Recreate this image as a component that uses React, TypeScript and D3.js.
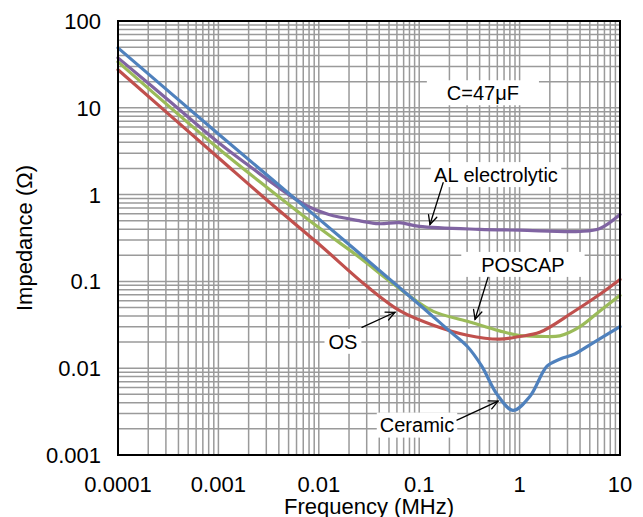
import React from 'react';
import * as d3 from 'd3';

const W = 643;
const H = 517;
const M = { left: 118, right: 23, top: 21, bottom: 62 };
const FONT = "'Liberation Sans', Arial, sans-serif";

const xTickValues = [0.0001, 0.001, 0.01, 0.1, 1, 10];
const xTickLabels = ['0.0001', '0.001', '0.01', '0.1', '1', '10'];
const yTickValues = [0.001, 0.01, 0.1, 1, 10, 100];
const yTickLabels = ['0.001', '0.01', '0.1', '1', '10', '100'];

// Ceramic (blue)
const ceramicFreq = [0.0001, 0.001, 0.01, 0.1, 0.1905, 0.302, 0.417, 0.603, 0.859, 1.27, 1.875, 2.51, 3.55, 5.01, 10];
const ceramicZ = [49, 5.0, 0.525, 0.0543, 0.0282, 0.0178, 0.0107, 0.0049, 0.00327, 0.00476, 0.01054, 0.0127, 0.0146, 0.0186, 0.0302];

// OS (red)
const osFreq = [0.0001, 0.001, 0.00316, 0.01, 0.0302, 0.0646, 0.138, 0.302, 0.631, 1.0, 1.585, 3.39, 6.31, 10];
const osZ = [27.4, 2.66, 0.832, 0.27, 0.0877, 0.0457, 0.0313, 0.024, 0.0216, 0.0232, 0.0259, 0.0441, 0.071, 0.105];

// POSCAP (green)
const poscapFreq = [0.0001, 0.001, 0.00316, 0.01, 0.0251, 0.0501, 0.0794, 0.138, 0.302, 0.631, 1.0, 1.6, 2.51, 4.0, 6.31, 10];
const poscapZ = [33.8, 3.39, 1.17, 0.417, 0.191, 0.102, 0.0684, 0.0452, 0.0347, 0.0269, 0.0238, 0.0233, 0.0236, 0.0302, 0.0457, 0.0690];

// AL electrolytic (purple)
const alFreq = [0.0001, 0.000316, 0.001, 0.00251, 0.00501, 0.00794, 0.0126, 0.0251, 0.0398, 0.0631, 0.1, 0.398, 1, 3.98, 6.31, 10];
const alZ = [37.6, 12.3, 3.98, 1.78, 1.0, 0.724, 0.589, 0.501, 0.462, 0.475, 0.431, 0.398, 0.389, 0.376, 0.407, 0.589];

const seriesNames = ['AL electrolytic', 'POSCAP', 'OS', 'Ceramic'];
const seriesFreqs = [alFreq, poscapFreq, osFreq, ceramicFreq];
const seriesZs = [alZ, poscapZ, osZ, ceramicZ];
const seriesColors = ['#8064A2', '#9BBB59', '#C0504D', '#4F81BD'];

// annotations: text centre, arrow start, arrow tip (data coordinates)
const annLabels = ['C=47μF', 'AL electrolytic', 'POSCAP', 'OS', 'Ceramic'];
const annTextF = [0.431, 0.582, 1.08, 0.0174, 0.0951];
const annTextZ = [14.9, 1.70, 0.157, 0.0204, 0.00221];
const annStartF = [null, 0.173, 0.484, 0.0269, 0.238];
const annStartZ = [null, 1.37, 0.111, 0.0296, 0.00252];
const annTipF = [null, 0.128, 0.36, 0.0574, 0.61];
const annTipZ = [null, 0.452, 0.0366, 0.0441, 0.00418];
const annPad = [20, 3, 20, 4, 3];

function gridValues(lo: number, hi: number): number[] {
  const out: number[] = [];
  for (let e = Math.round(Math.log10(lo)); e < Math.round(Math.log10(hi)); e++) {
    for (let k = 1; k <= 9; k++) out.push(k * Math.pow(10, e));
  }
  out.push(hi);
  return out;
}

function textWidth(s: string, size: number): number {
  if (typeof document === 'undefined') return s.length * size * 0.55;
  const c = document.createElement('canvas').getContext('2d');
  if (!c) return s.length * size * 0.55;
  c.font = `${size}px 'Liberation Sans', Arial, sans-serif`;
  return c.measureText(s).width;
}

export default function App() {
  const x = d3.scaleLog().domain([0.0001, 10]).range([M.left, W - M.right]);
  const y = d3.scaleLog().domain([0.001, 100]).range([H - M.bottom, M.top]);
  const x0 = M.left, x1 = W - M.right, y0 = M.top, y1 = H - M.bottom;

  const xg = gridValues(0.0001, 10);
  const yg = gridValues(0.001, 100);

  const line = d3
    .line<[number, number]>()
    .x((d) => x(d[0]))
    .y((d) => y(d[1]))
    .curve(d3.curveCatmullRom.alpha(0.5));

  const annFont = 20;

  return (
    <svg width={W} height={H} style={{ position: 'absolute', left: 0, top: 0, display: 'block', background: '#fff' }}>
      <rect x={0} y={0} width={W} height={H} fill="#fff" />
      <g stroke="#9a9a9a" strokeWidth={1.5}>
        {xg.map((v, i) => (
          <line key={'gx' + i} x1={x(v)} x2={x(v)} y1={y0} y2={y1} />
        ))}
        {yg.map((v, i) => (
          <line key={'gy' + i} x1={x0} x2={x1} y1={y(v)} y2={y(v)} />
        ))}
      </g>

      {annLabels.map((lab, i) => {
        const cx = x(annTextF[i]);
        const cy = y(annTextZ[i]);
        const w = textWidth(lab, annFont);
        const pad = annPad[i];
        return (
          <g key={'ab' + i}>
            <rect x={cx - w / 2 - pad} y={cy - 12.5} width={w + 2 * pad} height={25} fill="#fff" />
            <text x={cx} y={cy} dy="0.36em" textAnchor="middle" fontFamily={FONT} fontSize={annFont} fill="#000">
              {lab}
            </text>
          </g>
        );
      })}

      {seriesNames.map((name, si) => {
        const pts: [number, number][] = seriesFreqs[si].map((f, j) => [f, seriesZs[si][j]]);
        return (
          <path
            key={name}
            d={line(pts) || ''}
            fill="none"
            stroke={seriesColors[si]}
            strokeWidth={3.2}
            strokeLinecap="round"
            strokeLinejoin="round"
          />
        );
      })}

      {annLabels.map((lab, i) => {
        const sf = annStartF[i], sz = annStartZ[i], tf = annTipF[i], tz = annTipZ[i];
        if (sf == null || sz == null || tf == null || tz == null) return null;
        const sx = x(sf), sy = y(sz), tx = x(tf), ty = y(tz);
        const ang = Math.atan2(ty - sy, tx - sx);
        const L = 10, a = 0.45;
        const h1x = tx - L * Math.cos(ang - a), h1y = ty - L * Math.sin(ang - a);
        const h2x = tx - L * Math.cos(ang + a), h2y = ty - L * Math.sin(ang + a);
        return (
          <g key={'ar' + i} stroke="#000" strokeWidth={1.3} fill="none" strokeLinecap="round">
            <line x1={sx} y1={sy} x2={tx} y2={ty} />
            <polyline points={`${h1x},${h1y} ${tx},${ty} ${h2x},${h2y}`} />
          </g>
        );
      })}

      <rect x={x0} y={y0} width={x1 - x0} height={y1 - y0} fill="none" stroke="#000" strokeWidth={2} />

      {xTickValues.map((v, i) => (
        <text key={'xt' + i} x={x(v)} y={y1 + 37} textAnchor="middle" fontFamily={FONT} fontSize={22} fill="#000">
          {xTickLabels[i]}
        </text>
      ))}
      {yTickValues.map((v, i) => (
        <text key={'yt' + i} x={x0 - 17} y={y(v)} dy="0.36em" textAnchor="end" fontFamily={FONT} fontSize={22} fill="#000">
          {yTickLabels[i]}
        </text>
      ))}
      <text x={(x0 + x1) / 2} y={514} textAnchor="middle" fontFamily={FONT} fontSize={22} fill="#000">
        Frequency (MHz)
      </text>
      <text
        transform={`translate(24, ${(y0 + y1) / 2}) rotate(-90)`}
        dy="0.36em"
        textAnchor="middle"
        fontFamily={FONT}
        fontSize={22}
        fill="#000"
      >
        Impedance (Ω)
      </text>
    </svg>
  );
}
